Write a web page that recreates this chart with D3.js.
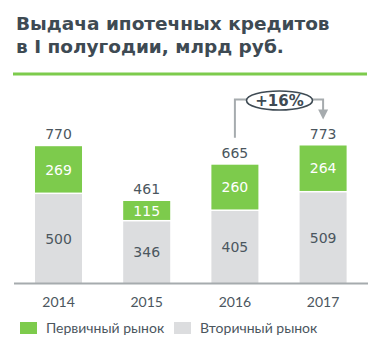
<!DOCTYPE html>
<html>
<head>
<meta charset="utf-8">
<script src="https://cdn.jsdelivr.net/npm/d3@7"></script>
<style>
  body { margin: 0; background: #fff; }
  svg { display: block; }
</style>
</head>
<body>
<div class="svg-container"></div>
<script>
// data
var years = ["2014", "2015", "2016", "2017"];
var primary = [269, 115, 260, 264];
var secondary = [500, 346, 405, 509];
var totals = [770, 461, 665, 773];
var growthLabel = "+16%";
var legendLabels = ["Первичный рынок", "Вторичный рынок"];

var W = 380, H = 361;
var green = "#7dcb4c", grey = "#dcdddf", dark = "#3e4a53", txt = "#4b565e", lineGrey = "#a6abae";

var svg = d3.select(".svg-container").append("svg")
    .attr("width", W)
    .attr("height", H);

// title
var title = svg.append("text")
    .attr("x", 16)
    .attr("font-family", "DejaVu Sans")
    .attr("font-weight", "bold")
    .attr("font-size", "18.5px")
    .attr("fill", dark);
title.append("tspan").attr("x", 16).attr("y", 30).text("Выдача ипотечных кредитов");
title.append("tspan").attr("x", 16).attr("y", 53).text("в I полугодии, млрд руб.");

svg.append("line")
    .attr("x1", 13).attr("x2", 367)
    .attr("y1", 74).attr("y2", 74)
    .attr("stroke", green)
    .attr("stroke-width", 3);

// scales
var x = d3.scaleBand()
    .domain(years)
    .range([14.4, 367.2])
    .paddingInner(0.467)
    .paddingOuter(0.2335);

var y = d3.scaleLinear()
    .domain([0, 773])
    .range([283, 145.5]);

var rows = years.map(function(d, i) {
    return {year: d, primary: primary[i], secondary: secondary[i], total: totals[i]};
});

// bars
var g = svg.append("g");
g.selectAll(".sec").data(rows).enter().append("rect")
    .attr("x", function(d) { return x(d.year); })
    .attr("width", x.bandwidth())
    .attr("y", function(d) { return y(d.secondary); })
    .attr("height", function(d) { return y(0) - y(d.secondary); })
    .attr("fill", grey);

g.selectAll(".pri").data(rows).enter().append("rect")
    .attr("x", function(d) { return x(d.year); })
    .attr("width", x.bandwidth())
    .attr("y", function(d) { return y(d.secondary + d.primary); })
    .attr("height", function(d) { return y(d.secondary) - y(d.secondary + d.primary) - 1.5; })
    .attr("fill", green);

// segment labels
g.selectAll(".secl").data(rows).enter().append("text")
    .attr("x", function(d) { return x(d.year) + x.bandwidth() / 2; })
    .attr("y", function(d) { return (y(0) + y(d.secondary)) / 2 + 5; })
    .attr("text-anchor", "middle")
    .attr("font-family", "DejaVu Sans")
    .attr("font-size", "14px")
    .attr("fill", txt)
    .text(function(d) { return d.secondary; });

g.selectAll(".pril").data(rows).enter().append("text")
    .attr("x", function(d) { return x(d.year) + x.bandwidth() / 2; })
    .attr("y", function(d) { return (y(d.secondary) + y(d.secondary + d.primary)) / 2 + 4.5; })
    .attr("text-anchor", "middle")
    .attr("font-family", "DejaVu Sans")
    .attr("font-size", "14px")
    .attr("fill", "#fff")
    .text(function(d) { return d.primary; });

// totals
g.selectAll(".tot").data(rows).enter().append("text")
    .attr("x", function(d) { return x(d.year) + x.bandwidth() / 2; })
    .attr("y", function(d) { return y(d.total) - 7; })
    .attr("text-anchor", "middle")
    .attr("font-family", "DejaVu Sans")
    .attr("font-size", "14px")
    .attr("fill", txt)
    .text(function(d) { return d.total; });

// axis
var xAxis = d3.axisBottom(x).tickSize(0).tickPadding(14);
var ax = svg.append("g")
    .attr("transform", "translate(0," + (y(0) + 0.5) + ")")
    .call(xAxis);
ax.select(".domain")
    .attr("d", "M14,0H368")
    .attr("stroke", lineGrey)
    .attr("stroke-width", 2);
ax.selectAll("text")
    .attr("font-family", "Lato")
    .attr("font-size", "14px")
    .attr("fill", txt);

// growth annotation
var cx16 = x("2016") + x.bandwidth() / 2;
var cx17 = x("2017") + x.bandwidth() / 2;
var topY = 99.5;
var startY = y(665) - 27;
var tipY = y(773) - 26;
svg.append("path")
    .attr("d", "M" + cx16 + "," + startY + "V" + topY + "H" + cx17 + "V" + (tipY - 9))
    .attr("fill", "none")
    .attr("stroke", lineGrey)
    .attr("stroke-width", 2);
svg.append("path")
    .attr("d", "M" + (cx17 - 5) + "," + (tipY - 10) + "L" + (cx17 + 5) + "," + (tipY - 10) + "L" + cx17 + "," + tipY + "Z")
    .attr("fill", lineGrey);
var ex = (cx16 + cx17) / 2 + 0.5;
svg.append("ellipse")
    .attr("cx", ex).attr("cy", 100.5)
    .attr("rx", 33).attr("ry", 9.5)
    .attr("fill", "#fff")
    .attr("stroke", dark)
    .attr("stroke-width", 1.6);
svg.append("text")
    .attr("x", ex).attr("y", 106)
    .attr("text-anchor", "middle")
    .attr("font-family", "DejaVu Sans")
    .attr("font-weight", "bold")
    .attr("font-size", "15px")
    .attr("fill", dark)
    .text(growthLabel);

// legend
var legColors = [green, grey];
var legX = [20, 174];
var leg = svg.append("g");
legendLabels.forEach(function(l, i) {
    leg.append("rect")
        .attr("x", legX[i]).attr("y", 322)
        .attr("width", 17).attr("height", 12)
        .attr("fill", legColors[i]);
    leg.append("text")
        .attr("x", legX[i] + 26).attr("y", 333)
        .attr("font-family", "Lato")
        .attr("font-size", "14px")
        .attr("fill", txt)
        .text(l);
});
</script>
</body>
</html>
